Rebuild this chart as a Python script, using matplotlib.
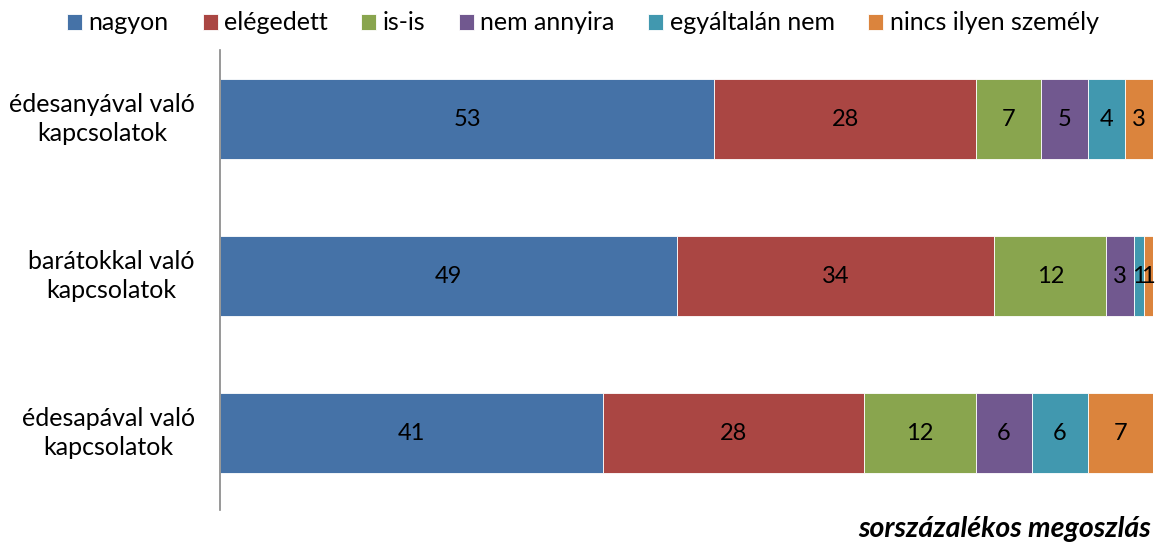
import numpy as np
import matplotlib.pyplot as plt

plt.rcParams['font.family'] = ['Lato', 'DejaVu Sans']

categories = ["édesanyával való\nkapcsolatok", "barátokkal való\nkapcsolatok", "édesapával való\nkapcsolatok"]
series_names = ["nagyon", "elégedett", "is-is", "nem annyira", "egyáltalán nem", "nincs ilyen személy"]
nagyon = [53, 49, 41]
elegedett = [28, 34, 28]
isis = [7, 12, 12]
nem_annyira = [5, 3, 6]
egyaltalan_nem = [4, 1, 6]
nincs = [3, 1, 7]
colors = ["#4572A7", "#AA4643", "#89A54E", "#71588F", "#4198AF", "#DB843D"]

fig = plt.figure(figsize=(11.59, 5.44), dpi=100)
ax = fig.add_axes([220/1159, 34/544, 933/1159, 460/544])

y = np.arange(len(categories))
left = np.zeros(len(categories))
handles = []
for vals, name, col in zip([nagyon, elegedett, isis, nem_annyira, egyaltalan_nem, nincs], series_names, colors):
    vals = np.array(vals, dtype=float)
    h = ax.barh(y, vals, left=left, height=0.51, color=col, edgecolor="white", linewidth=0.6, label=name)
    handles.append(h)
    for yi, l, v in zip(y, left, vals):
        ax.text(l + v / 2, yi, "%d" % v, ha="center", va="center", fontsize=17, color="black")
    left += vals

ax.set_xlim(0, 100)
ax.set_ylim(2.49, -0.44)
ax.set_yticks(y)
ax.set_yticklabels(categories, fontsize=18, multialignment="center", linespacing=1.35, va="center")
ax.tick_params(axis="y", length=0, pad=18)
for lbl in ax.get_yticklabels():
    lbl.set_y(lbl.get_position()[1])
ax.set_xticks([])
for s in ["top", "right", "bottom"]:
    ax.spines[s].set_visible(False)
ax.spines["left"].set_color("#868686")
ax.spines["left"].set_linewidth(1.2)

fig.legend(handles=handles, labels=series_names, loc="center", bbox_to_anchor=(583/1159, 1 - 23/544),
           ncol=6, frameon=False, fontsize=18, handlelength=0.6, handleheight=0.6,
           handletextpad=0.25, columnspacing=1.35, borderpad=0)

fig.text(1151/1159, 1 - 537/544, "sorszázalékos megoszlás", ha="right", va="baseline",
         fontsize=20.5, fontweight="bold", fontstyle="italic")

fig.savefig("out.png", dpi=100)
